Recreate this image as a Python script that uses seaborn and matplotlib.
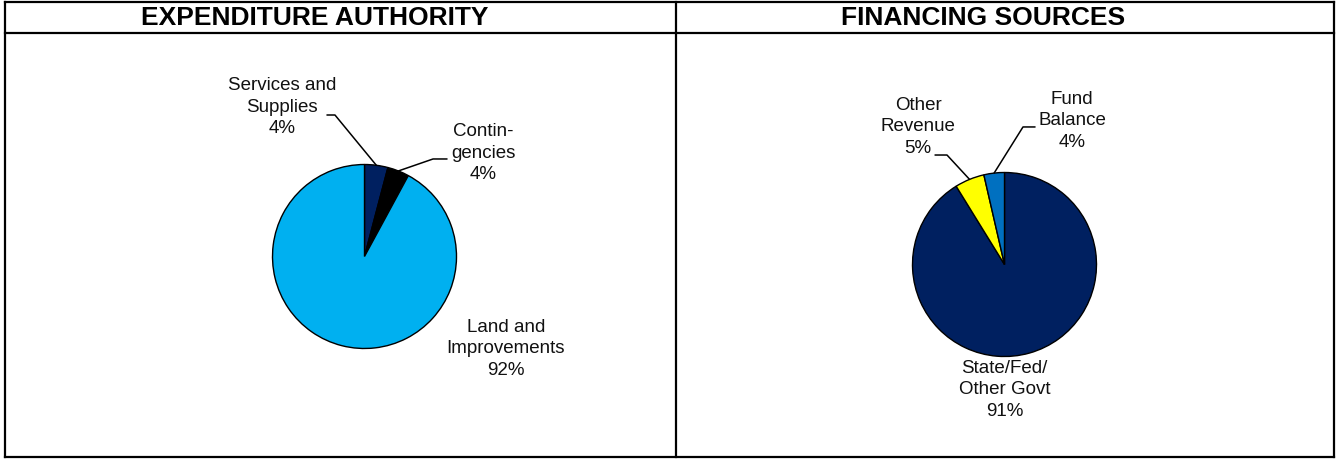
import numpy as np
import matplotlib
matplotlib.use("Agg")
import matplotlib.pyplot as plt
import seaborn as sns

# =========================================================
# DATA
# =========================================================
exp_labels = ['Services and\nSupplies', 'Contin-\ngencies', 'Land and\nImprovements']
exp_values = [4.1, 3.8, 92.1]
exp_colors = ['#002060', '#000000', '#00B0F0']

fin_labels = ['State/Fed/\nOther Govt', 'Other\nRevenue', 'Fund\nBalance']
fin_values = [91.2, 5.2, 3.6]
fin_colors = ['#002060', '#FFFF00', '#0070C0']

titles = ['EXPENDITURE AUTHORITY', 'FINANCING SOURCES']

sns.set_theme(style="white")
plt.rcParams['font.family'] = ['Liberation Sans', 'DejaVu Sans']
plt.rcParams['text.color'] = 'black'

W, H = 1338, 459
fig = plt.figure(figsize=(W / 100, H / 100), dpi=100)

# overlay in pixel coords for frame + titles
over = fig.add_axes([0, 0, 1, 1])
over.set_xlim(0, W)
over.set_ylim(H, 0)
over.axis('off')
lw = 1.6
for xs, ys in [([5, 1334], [2, 2]), ([5, 1334], [457, 457]), ([5, 1334], [33, 33]),
               ([5, 5], [2, 457]), ([1334, 1334], [2, 457]), ([676, 676], [2, 457])]:
    over.plot(xs, ys, color='black', lw=lw, solid_capstyle='projecting')
over.text(315, 18, titles[0], ha='center', va='center', fontsize=19, fontweight='bold', color='black')
over.text(983, 18, titles[1], ha='center', va='center', fontsize=19, fontweight='bold', color='black')

R = 92  # pie radius in pixels
LIM = 2.0


def pie_axes(cx, cy):
    side = 2 * R * LIM
    ax = fig.add_axes([(cx - side / 2) / W, 1 - (cy + side / 2) / H, side / W, side / H])
    ax.set_xlim(-LIM, LIM)
    ax.set_ylim(-LIM, LIM)
    ax.axis('off')
    return ax


def draw_pie(ax, values, colors, labels, layout):
    wedges, _ = ax.pie(values, colors=colors, startangle=90, counterclock=False,
                       radius=1, wedgeprops=dict(edgecolor='black', linewidth=1.0))
    ax.set_xlim(-LIM, LIM)
    ax.set_ylim(-LIM, LIM)
    ax.set_aspect('equal')
    for w, lab, v, lay in zip(wedges, labels, values, layout):
        txt = f"{lab}\n{round(v):.0f}%"
        tx, ty, leader = lay
        ax.text(tx, ty, txt, ha='center', va='center', multialignment='center',
                fontsize=13.5, color='#111111', linespacing=1.38)
        if leader is not None:
            mid = np.deg2rad((w.theta1 + w.theta2) / 2)
            px, py = np.cos(mid), np.sin(mid)
            (ex, ey), (sx, sy) = leader
            ax.plot([px, ex, sx], [py, ey, sy], color='black', lw=1.1, clip_on=False)


ax1 = pie_axes(364.5, 256.5)
draw_pie(ax1, exp_values, exp_colors, exp_labels, [
    (-0.897, 1.625, ((-0.321, 1.538), (-0.408, 1.538))),
    (1.288, 1.125, ((0.745, 1.060), (0.897, 1.060))),
    (1.538, -1.005, None),
])

ax2 = pie_axes(1004.5, 264.5)
draw_pie(ax2, fin_values, fin_colors, fin_labels, [
    (0.0, -1.364, None),
    (-0.940, 1.495, ((-0.625, 1.190), (-0.755, 1.190))),
    (0.734, 1.560, ((0.201, 1.495), (0.332, 1.495))),
])

fig.savefig('out.png', dpi=100)
